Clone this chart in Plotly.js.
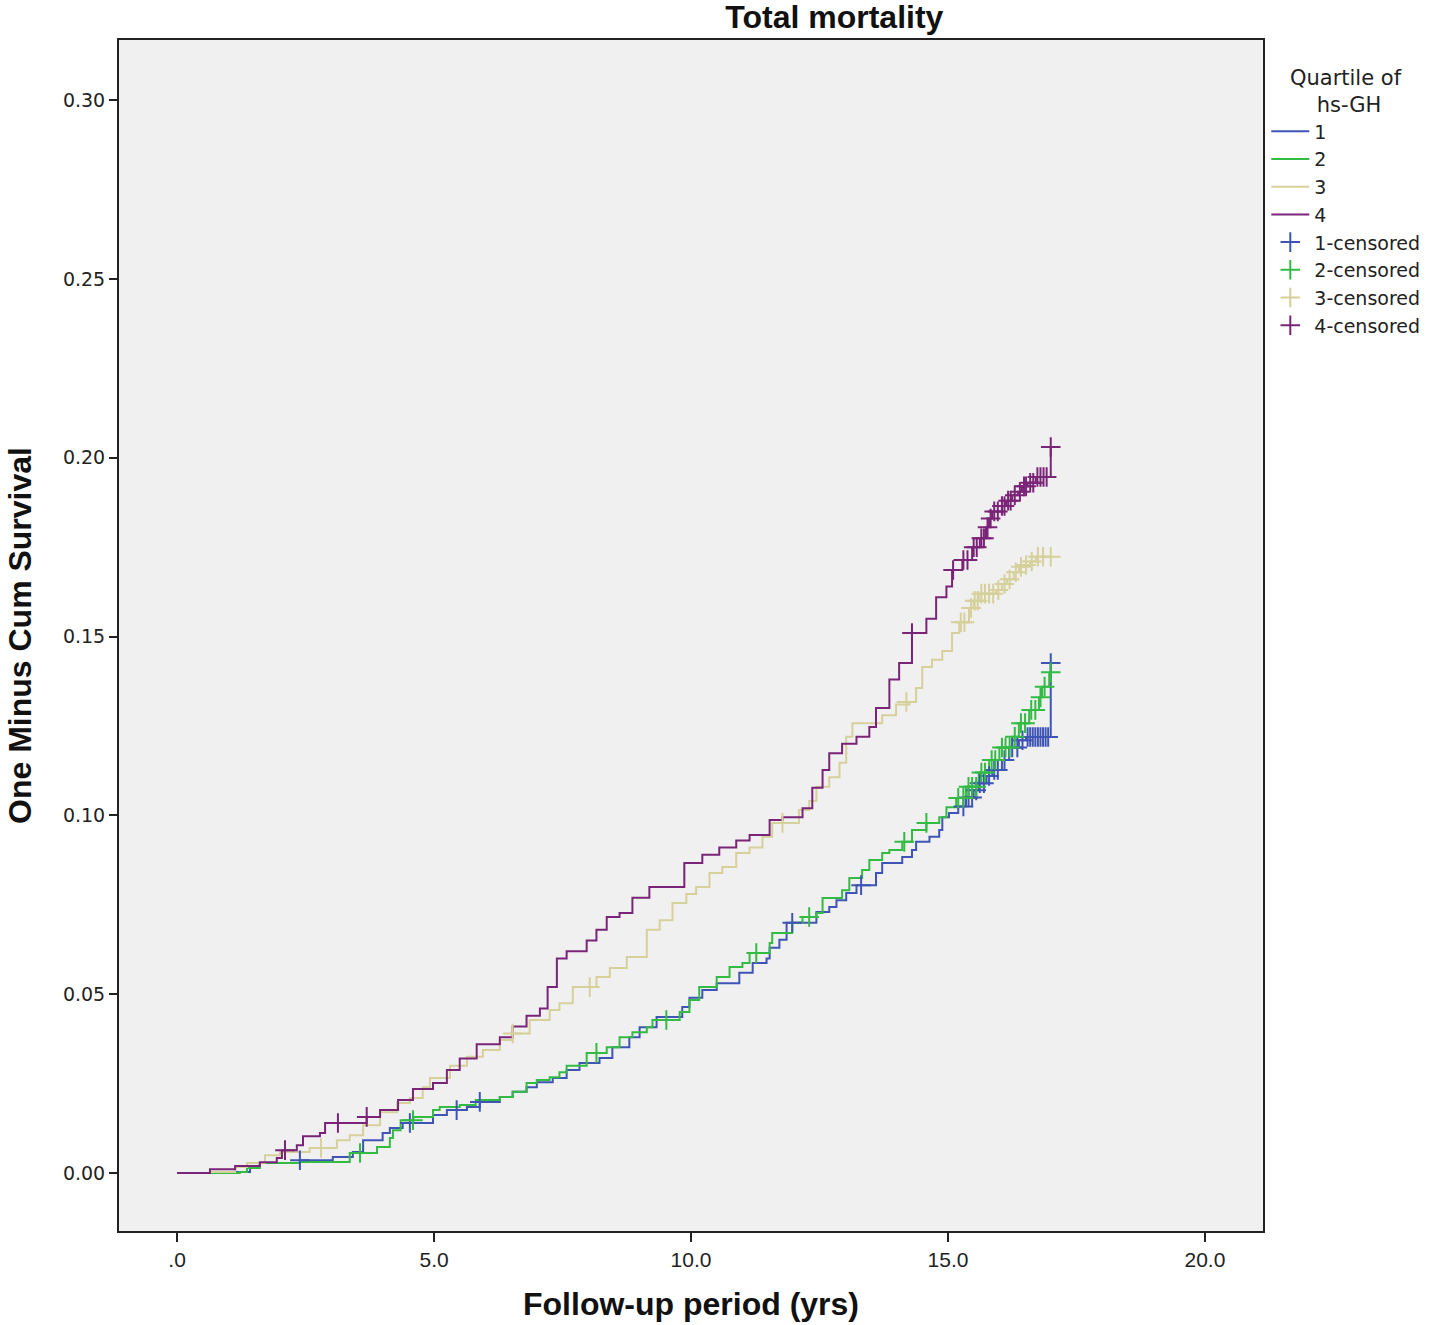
<!DOCTYPE html>
<html>
<head>
<meta charset="utf-8">
<script src="https://cdn.plot.ly/plotly-3.0.1.min.js"></script>
<style>
  html, body { margin: 0; padding: 0; background: #ffffff; }
  #chart { width: 1436px; height: 1325px; }
</style>
</head>
<body>
<div id="chart"></div>
<script>
// ---------- Data ----------
const groupNames = ["1", "2", "3", "4"];
const censoredNames = ["1-censored", "2-censored", "3-censored", "4-censored"];
const xTickValues = [0, 5, 10, 15, 20];
const xTickLabels = [".0", "5.0", "10.0", "15.0", "20.0"];
const yTickValues = [0, 0.05, 0.10, 0.15, 0.20, 0.25, 0.30];
const yTickLabels = ["0.00", "0.05", "0.10", "0.15", "0.20", "0.25", "0.30"];

// Quartile 1 (step curve)
const q1Time = [
  0, 1.13, 1.42, 1.61, 2.39, 3.03, 3.42, 3.62, 4.0, 4.14,
  4.39, 4.98, 5.25, 5.64, 5.89, 6.28, 6.53, 6.8, 7.0, 7.31,
  7.58, 7.83, 8.22, 8.47, 8.8, 9.0, 9.33, 9.83, 9.97, 10.22,
  10.5, 10.94, 11.2, 11.47, 11.53, 11.72, 11.86, 12.44, 12.69, 12.83,
  13.02, 13.22, 13.6, 13.72, 14.11, 14.3, 14.38, 14.64, 14.83, 14.89,
  15.02, 15.2, 15.35, 15.5, 15.6, 15.75, 15.86, 16.05, 16.19, 16.38,
  16.52, 17.0, 17.0];
const q1Value = [
  0, 0.0003, 0.0017, 0.0028, 0.0036, 0.0045, 0.0059, 0.0092, 0.0112, 0.0126,
  0.014, 0.0162, 0.0176, 0.0185, 0.0199, 0.0213, 0.0227, 0.024, 0.0254, 0.0266,
  0.0288, 0.0308, 0.0322, 0.0352, 0.038, 0.0408, 0.0436, 0.0464, 0.049, 0.0512,
  0.0531, 0.056, 0.0587, 0.060, 0.063, 0.0652, 0.070, 0.073, 0.0744, 0.0763,
  0.0783, 0.0805, 0.0839, 0.0867, 0.0884, 0.0903, 0.0926, 0.094, 0.0959, 0.0995,
  0.1007, 0.1025, 0.105, 0.107, 0.109, 0.111, 0.1127, 0.1155, 0.119, 0.121,
  0.1219, 0.1219, 0.1426];

// Quartile 2
const q2Time = [
  0, 1.22, 1.36, 1.61, 2.39, 3.36, 3.89, 4.14, 4.2, 4.35,
  4.6, 4.98, 5.11, 5.5, 5.81, 6.28, 6.53, 6.8, 7.0, 7.25,
  7.44, 7.58, 7.97, 8.36, 8.61, 8.86, 9.14, 9.25, 9.78, 9.97,
  10.16, 10.5, 10.75, 11.0, 11.14, 11.53, 11.58, 11.97, 12.17, 12.44,
  12.56, 12.94, 13.08, 13.33, 13.47, 13.72, 13.86, 14.11, 14.3, 14.58,
  14.83, 14.97, 15.16, 15.35, 15.6, 15.8, 16.0, 16.25, 16.38, 16.58,
  16.77, 16.83, 16.97];
const q2Value = [
  0, 0.0003, 0.0014, 0.0028, 0.0031, 0.0056, 0.0073, 0.0098, 0.012, 0.0148,
  0.0157, 0.0176, 0.0185, 0.019, 0.0204, 0.0213, 0.0227, 0.0252, 0.026, 0.0268,
  0.0282, 0.030, 0.0336, 0.0352, 0.038, 0.0394, 0.0408, 0.0428, 0.045, 0.0484,
  0.052, 0.0548, 0.0576, 0.0587, 0.0615, 0.0643, 0.0671, 0.070, 0.0716, 0.0727,
  0.0769, 0.0791, 0.0825, 0.0847, 0.0875, 0.0895, 0.0903, 0.0926, 0.0959, 0.0979,
  0.0995, 0.1023, 0.1049, 0.108, 0.112, 0.1155, 0.119, 0.122, 0.1258, 0.1295,
  0.133, 0.136, 0.140];

// Quartile 3
const q3Time = [
  0, 0.64, 1.13, 1.36, 1.71, 2.0, 2.58, 3.11, 3.36, 3.62,
  3.95, 4.28, 4.53, 4.78, 4.92, 5.31, 5.64, 5.95, 6.28, 6.53,
  6.86, 7.25, 7.44, 7.7, 8.16, 8.42, 8.75, 9.14, 9.39, 9.64,
  9.91, 10.1, 10.36, 10.61, 10.88, 11.14, 11.39, 11.58, 12.1, 12.3,
  12.44, 12.69, 12.89, 13.02, 13.14, 13.72, 13.99, 14.25, 14.38, 14.5,
  14.69, 14.89, 15.08, 15.22, 15.41, 15.5, 15.6, 15.94, 16.05, 16.15,
  16.28, 16.38, 16.48, 16.6, 16.71, 17.0];
const q3Value = [
  0, 0.0003, 0.0017, 0.0028, 0.005, 0.0059, 0.007, 0.0092, 0.0106, 0.0134,
  0.017, 0.0196, 0.021, 0.024, 0.0266, 0.030, 0.0325, 0.0344, 0.0372, 0.039,
  0.0428, 0.0456, 0.0475, 0.052, 0.0548, 0.0573, 0.0604, 0.068, 0.0707, 0.0755,
  0.078, 0.080, 0.0839, 0.0856, 0.0895, 0.091, 0.094, 0.0979, 0.1015, 0.104,
  0.108, 0.1107, 0.1147, 0.122, 0.1258, 0.128, 0.131, 0.1317, 0.1356, 0.1415,
  0.1435, 0.146, 0.151, 0.154, 0.158, 0.160, 0.162, 0.163, 0.1647, 0.166,
  0.168, 0.1695, 0.170, 0.171, 0.1723, 0.1723];

// Quartile 4
const q4Time = [
  0, 0.64, 1.13, 1.61, 1.94, 2.04, 2.33, 2.45, 2.78, 2.88,
  3.69, 3.95, 4.3, 4.59, 4.98, 5.25, 5.5, 5.83, 6.28, 6.53,
  6.8, 7.06, 7.21, 7.39, 7.58, 7.97, 8.16, 8.36, 8.61, 8.86,
  9.19, 9.87, 10.22, 10.55, 10.88, 11.14, 11.53, 11.78, 12.17, 12.36,
  12.56, 12.69, 12.94, 13.22, 13.47, 13.6, 13.86, 14.05, 14.3, 14.58,
  14.77, 14.97, 15.08, 15.28, 15.47, 15.62, 15.74, 15.8, 15.86, 16.05,
  16.13, 16.25, 16.36, 16.44, 16.55, 16.71, 17.0, 17.0];
const q4Value = [
  0, 0.0011, 0.002, 0.003, 0.0042, 0.0064, 0.0078, 0.0103, 0.0112, 0.014,
  0.0157, 0.0176, 0.0204, 0.0235, 0.0252, 0.0288, 0.032, 0.036, 0.038, 0.041,
  0.044, 0.046, 0.052, 0.060, 0.062, 0.065, 0.068, 0.0716, 0.0727, 0.077,
  0.080, 0.0867, 0.089, 0.091, 0.093, 0.0945, 0.0987, 0.0995, 0.102, 0.1077,
  0.1127, 0.1174, 0.120, 0.122, 0.1247, 0.130, 0.138, 0.1426, 0.151, 0.155,
  0.161, 0.164, 0.1686, 0.1714, 0.175, 0.1775, 0.1806, 0.183, 0.185, 0.1865,
  0.188, 0.1895, 0.1905, 0.192, 0.193, 0.1946, 0.1946, 0.203];

// Censored observations
const q1CensTime = [2.39, 4.53, 5.44, 5.89, 11.97, 13.31, 15.3, 15.4, 15.47, 15.55,
  15.62, 15.7, 15.8, 15.9, 15.97, 16.1, 16.25, 16.35, 16.45, 16.55,
  16.6, 16.65, 16.7, 16.75, 16.8, 16.85, 16.9, 16.95, 17.0];
const q1CensValue = [0.0036, 0.014, 0.0176, 0.0199, 0.070, 0.0805, 0.1025, 0.105, 0.105, 0.107,
  0.109, 0.109, 0.111, 0.1127, 0.1127, 0.1155, 0.119, 0.119, 0.121, 0.1219,
  0.1219, 0.1219, 0.1219, 0.1219, 0.1219, 0.1219, 0.1219, 0.1219, 0.1426];

const q2CensTime = [3.56, 4.59, 8.16, 9.52, 11.27, 12.3, 14.15, 14.58, 15.2, 15.3,
  15.4, 15.47, 15.55, 15.65, 15.72, 15.85, 15.92, 16.05, 16.12, 16.2,
  16.3, 16.42, 16.5, 16.62, 16.7, 16.8, 16.88, 17.0];
const q2CensValue = [0.0056, 0.0148, 0.0336, 0.0428, 0.0615, 0.0716, 0.0926, 0.0979, 0.1049, 0.1049,
  0.108, 0.108, 0.108, 0.112, 0.112, 0.1155, 0.1155, 0.119, 0.119, 0.119,
  0.122, 0.1258, 0.1258, 0.1295, 0.1295, 0.133, 0.136, 0.140];

const q3CensTime = [2.8, 6.53, 8.03, 11.78, 14.19, 15.25, 15.32, 15.45, 15.52, 15.58,
  15.65, 15.72, 15.8, 15.88, 15.98, 16.1, 16.2, 16.32, 16.42, 16.52,
  16.63, 16.75, 16.85, 17.0];
const q3CensValue = [0.007, 0.039, 0.052, 0.0979, 0.1317, 0.154, 0.154, 0.158, 0.160, 0.160,
  0.162, 0.162, 0.162, 0.162, 0.163, 0.1647, 0.166, 0.168, 0.1695, 0.170,
  0.171, 0.1723, 0.1723, 0.1723];

const q4CensTime = [2.1, 3.13, 3.69, 14.3, 15.1, 15.3, 15.38, 15.5, 15.56, 15.65,
  15.7, 15.77, 15.83, 15.9, 15.97, 16.05, 16.1, 16.17, 16.22, 16.3,
  16.4, 16.48, 16.52, 16.6, 16.66, 16.74, 16.8, 16.86, 16.92, 17.0];
const q4CensValue = [0.0064, 0.014, 0.0157, 0.151, 0.1686, 0.1714, 0.1714, 0.175, 0.175, 0.1775,
  0.1775, 0.1806, 0.183, 0.185, 0.185, 0.1865, 0.1865, 0.188, 0.188, 0.1895,
  0.1905, 0.192, 0.192, 0.193, 0.193, 0.1946, 0.1946, 0.1946, 0.1946, 0.203];

// ---------- Styling ----------
const colors = ["#3f55b5", "#33bb44", "#d6d09a", "#7a2478"];
const curveTimes = [q1Time, q2Time, q3Time, q4Time];
const curveValues = [q1Value, q2Value, q3Value, q4Value];
const censTimes = [q1CensTime, q2CensTime, q3CensTime, q4CensTime];
const censValues = [q1CensValue, q2CensValue, q3CensValue, q4CensValue];

const traces = [];
for (let i = 0; i < 4; i++) {
  traces.push({
    type: "scatter",
    mode: "lines",
    name: groupNames[i],
    x: curveTimes[i],
    y: curveValues[i],
    line: { color: colors[i], width: 2, shape: "hv" },
    hoverinfo: "x+y+name"
  });
}
for (let i = 0; i < 4; i++) {
  traces.push({
    type: "scatter",
    mode: "markers",
    name: censoredNames[i],
    x: censTimes[i],
    y: censValues[i],
    marker: {
      symbol: "cross-thin-open",
      size: 14,
      color: colors[i],
      line: { color: colors[i], width: 2 }
    },
    hoverinfo: "x+y+name"
  });
}

const tickFontY = { family: "DejaVu Sans", size: 19, color: "#222222" };
const tickFontX = { family: "Liberation Sans", size: 21, color: "#222222" };
const titleFont = { family: "Liberation Sans", size: 32, color: "#111111", weight: "bold" };

const layout = {
  width: 1436,
  height: 1325,
  paper_bgcolor: "#ffffff",
  plot_bgcolor: "#f0f0f0",
  margin: { l: 119, r: 172, t: 40, b: 94, pad: 0 },
  title: {
    text: "Total mortality",
    font: titleFont,
    xref: "container",
    yref: "container",
    x: 0.581,
    xanchor: "center",
    y: 0.987,
    yanchor: "middle"
  },
  showlegend: true,
  legend: {
    x: 1.002,
    xanchor: "left",
    y: 0.985,
    yanchor: "top",
    bgcolor: "rgba(0,0,0,0)",
    font: { family: "DejaVu Sans", size: 19, color: "#222222" },
    itemwidth: 38,
    tracegroupgap: 0,
    traceorder: "normal",
    title: {
      text: "Quartile of<br>&nbsp;&nbsp;&nbsp;&nbsp;hs-GH",
      side: "top center",
      font: { family: "DejaVu Sans", size: 21, color: "#222222" }
    }
  },
  xaxis: {
    range: [-1.13, 21.13],
    tickmode: "array",
    tickvals: xTickValues,
    ticktext: xTickLabels,
    tickfont: tickFontX,
    ticks: "outside",
    ticklen: 9,
    tickwidth: 2,
    tickcolor: "#222222",
    showgrid: false,
    zeroline: false,
    showline: true,
    linecolor: "#222222",
    linewidth: 2,
    mirror: true,
    automargin: false,
    title: { text: "Follow-up period (yrs)", font: titleFont, standoff: 22 }
  },
  yaxis: {
    range: [-0.0162, 0.3168],
    tickmode: "array",
    tickvals: yTickValues,
    ticktext: yTickLabels,
    tickfont: tickFontY,
    ticks: "outside",
    ticklen: 8,
    tickwidth: 2,
    tickcolor: "#222222",
    showgrid: false,
    zeroline: false,
    showline: true,
    linecolor: "#222222",
    linewidth: 2,
    mirror: true,
    automargin: false,
    title: { text: "One Minus Cum Survival", font: titleFont, standoff: 22 }
  }
};

Plotly.newPlot("chart", traces, layout, { displayModeBar: false, staticPlot: false });
</script>
</body>
</html>
